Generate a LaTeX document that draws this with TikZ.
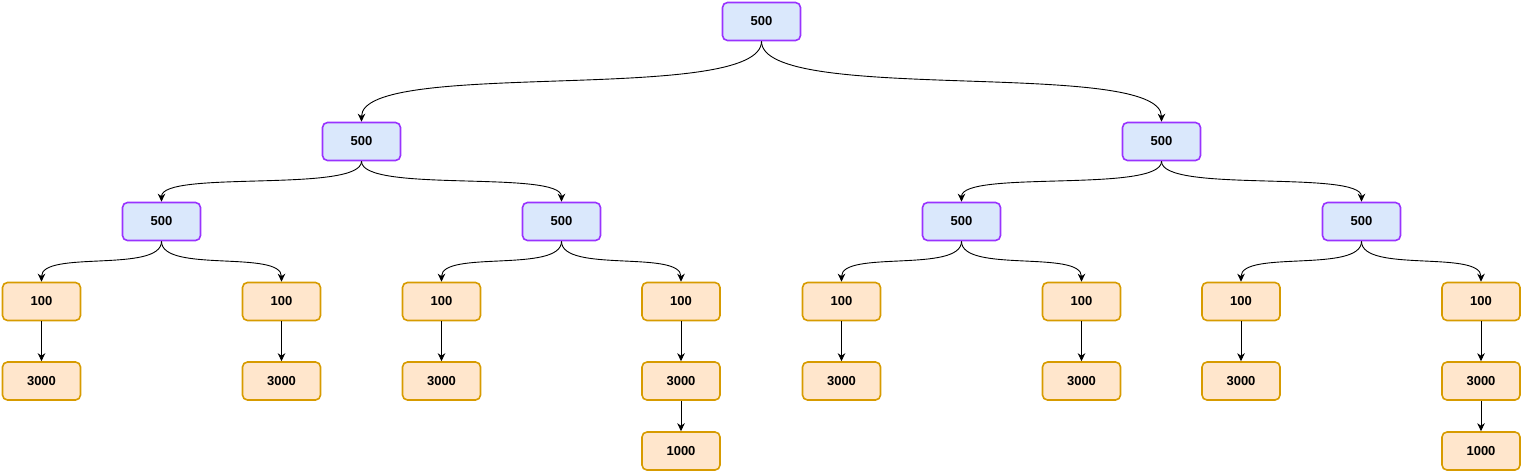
\documentclass[tikz,border=0pt]{standalone}
\usepackage{fontspec}
\setmainfont{Liberation Sans}
\usetikzlibrary{arrows.meta}
\definecolor{bfill}{HTML}{DAE8FC}
\definecolor{bline}{HTML}{9933FF}
\definecolor{ofill}{HTML}{FFE6CC}
\definecolor{oline}{HTML}{D79B00}
\begin{document}
\begin{tikzpicture}[x=1pt,y=-1pt,
  box/.style={rounded corners=5pt, line width=1.6pt, minimum width=78pt, minimum height=38pt,
    inner sep=0pt, font=\fontsize{13}{15}\selectfont\bfseries},
  bluebox/.style={box, draw=bline, fill=bfill},
  orabox/.style={box, draw=oline, fill=ofill},
  conn/.style={line width=0.9pt, -{Stealth[length=8pt,width=7.5pt,inset=2.5pt]}}]
\useasboundingbox (0,0) rectangle (1522,472);
% level 0
\node[bluebox] (r) at (761.5,21.5) {500};
% level 1
\node[bluebox] (a) at (361.5,141.5) {500};
\node[bluebox] (b) at (1161.5,141.5) {500};
% level 2
\node[bluebox] (a1) at (161.5,221.5) {500};
\node[bluebox] (a2) at (561.5,221.5) {500};
\node[bluebox] (b1) at (961.5,221.5) {500};
\node[bluebox] (b2) at (1361.5,221.5) {500};
% level 3
\node[orabox] (c1) at (41.5,301.5) {100};
\node[orabox] (c2) at (281.5,301.5) {100};
\node[orabox] (c3) at (441.5,301.5) {100};
\node[orabox] (c4) at (681,301.5) {100};
\node[orabox] (c5) at (841.5,301.5) {100};
\node[orabox] (c6) at (1081.5,301.5) {100};
\node[orabox] (c7) at (1241,301.5) {100};
\node[orabox] (c8) at (1481,301.5) {100};
% level 4
\node[orabox] (d1) at (41.5,381) {3000};
\node[orabox] (d2) at (281.5,381) {3000};
\node[orabox] (d3) at (441.5,381) {3000};
\node[orabox] (d4) at (681,381) {3000};
\node[orabox] (d5) at (841.5,381) {3000};
\node[orabox] (d6) at (1081.5,381) {3000};
\node[orabox] (d7) at (1241,381) {3000};
\node[orabox] (d8) at (1481,381) {3000};
% level 5
\node[orabox] (e4) at (681,451) {1000};
\node[orabox] (e8) at (1481,451) {1000};
% curved connectors
\draw[conn] (r.south) .. controls +(0,64) and +(0,-64) .. (a.north);
\draw[conn] (r.south) .. controls +(0,64) and +(0,-64) .. (b.north);
\foreach \p/\c in {a/a1,a/a2,b/b1,b/b2,a1/c1,a1/c2,a2/c3,a2/c4,b1/c5,b1/c6,b2/c7,b2/c8}
  \draw[conn] (\p.south) .. controls +(0,32) and +(0,-32) .. (\c.north);
% straight connectors
\foreach \i in {1,...,8}
  \draw[conn] (c\i.south) -- (d\i.north);
\draw[conn] (d4.south) -- (e4.north);
\draw[conn] (d8.south) -- (e8.north);
\end{tikzpicture}
\end{document}
